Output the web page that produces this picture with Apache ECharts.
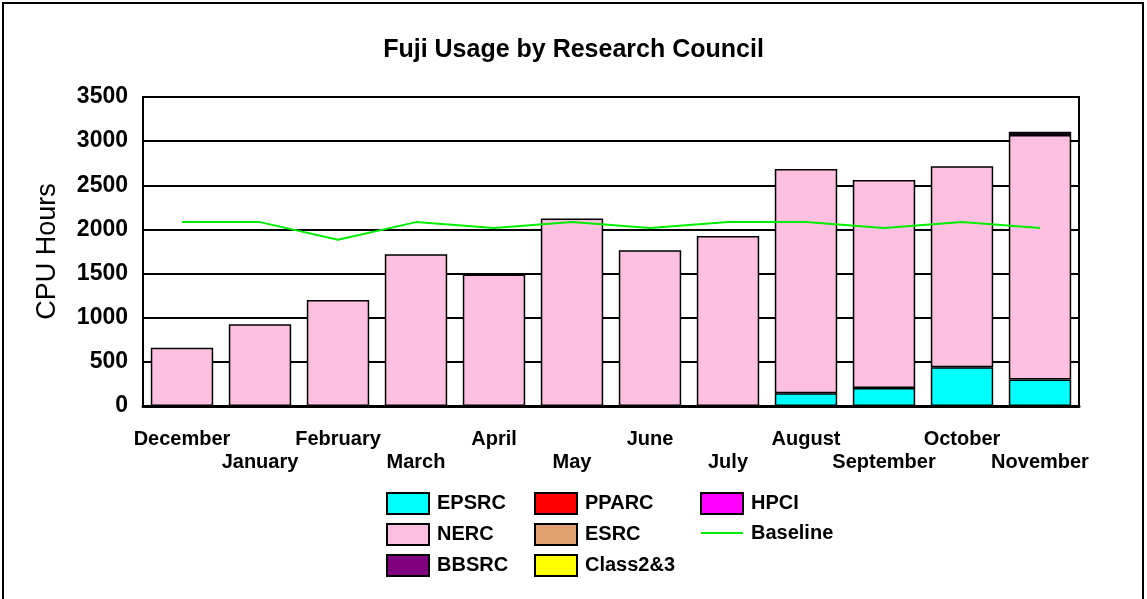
<!DOCTYPE html>
<html>
<head>
<meta charset="utf-8">
<script src="https://cdn.jsdelivr.net/npm/echarts@6/dist/echarts.min.js"></script>
<style>
  html, body { margin: 0; padding: 0; background: #fff; }
  #chart { width: 1147px; height: 599px; }
</style>
</head>
<body>
<div id="chart"></div>
<script>
// months on the x axis
const months = ['December', 'January', 'February', 'March', 'April', 'May',
  'June', 'July', 'August', 'September', 'October', 'November']

// CPU hours per research council (stacked)
const epsrc = [0, 0, 0, 0, 0, 0, 0, 0, 145, 205, 440, 300]
const nerc = [660, 925, 1200, 1720, 1490, 2125, 1765, 1925, 2540, 2355, 2275, 2770]
const bbsrc = [0, 0, 0, 0, 0, 0, 0, 0, 0, 0, 0, 35]
const pparc = [0, 0, 0, 0, 0, 0, 0, 0, 0, 0, 0, 0]
const esrc = [0, 0, 0, 0, 0, 0, 0, 0, 0, 0, 0, 0]
const class23 = [0, 0, 0, 0, 0, 0, 0, 0, 0, 0, 0, 0]
const hpci = [0, 0, 0, 0, 0, 0, 0, 0, 0, 0, 0, 0]
// baseline line
const baseline = [2083, 2083, 1882, 2083, 2016, 2083, 2016, 2083, 2083, 2016, 2083, 2016]

const yTicks = [0, 500, 1000, 1500, 2000, 2500, 3000, 3500]

let myChart = echarts.init(document.getElementById('chart'))

// stacked bar helper, zero months are left empty
function barSeries (name, data, color) {
  return {
    name: name,
    type: 'bar',
    stack: 'total',
    barCategoryGap: '20%',
    data: data.map(v => (v === 0 ? null : v)),
    itemStyle: { color: color, borderColor: '#000', borderWidth: 1.5 }
  }
}

const legendBase = {
  orient: 'vertical',
  top: 487,
  itemWidth: 42,
  itemHeight: 21,
  itemGap: 8,
  icon: 'rect',
  selectedMode: false,
  textStyle: {
    fontFamily: 'Liberation Sans',
    fontWeight: 'bold',
    fontSize: 20,
    color: '#000',
    padding: [0, 0, 0, 3]
  }
}

let option = {
  animation: false,
  backgroundColor: '#fff',
  title: {
    text: 'Fuji Usage by Research Council',
    left: 'center',
    top: 33,
    textStyle: { fontFamily: 'Liberation Sans', fontWeight: 'bold', fontSize: 25, color: '#000' }
  },
  graphic: [
    {
      type: 'rect',
      shape: { x: 3, y: 3, width: 1140, height: 640 },
      style: { fill: 'none', stroke: '#000', lineWidth: 2 },
      silent: true
    }
  ],
  legend: [
    Object.assign({}, legendBase, { left: 381, data: ['EPSRC', 'NERC', 'BBSRC'] }),
    Object.assign({}, legendBase, { left: 529, data: ['PPARC', 'ESRC', 'Class2&3'] }),
    Object.assign({}, legendBase, {
      left: 695,
      data: ['HPCI', { name: 'Baseline', icon: 'path://M0,9.5 L42,9.5 L42,11.5 L0,11.5 Z' }]
    })
  ],
  grid: {
    left: 143,
    right: 68,
    top: 97,
    bottom: 193,
    show: true,
    borderColor: '#000',
    borderWidth: 2
  },
  xAxis: {
    type: 'category',
    data: months,
    axisTick: { show: false },
    axisLine: { lineStyle: { color: '#000', width: 3 } },
    axisLabel: {
      interval: 0,
      margin: 22,
      hideOverlap: false,
      fontFamily: 'Liberation Sans',
      fontWeight: 'bold',
      fontSize: 20,
      lineHeight: 23,
      color: '#000',
      formatter: (v, i) => (i % 2 ? '\n' + v : v)
    }
  },
  yAxis: {
    type: 'value',
    min: yTicks[0],
    max: yTicks[yTicks.length - 1],
    interval: 500,
    name: 'CPU Hours',
    nameLocation: 'middle',
    nameRotate: 90,
    nameGap: 82,
    nameTextStyle: { fontFamily: 'Liberation Sans', fontSize: 27, color: '#000' },
    axisLine: { show: true, lineStyle: { color: '#000', width: 2 } },
    axisTick: { show: false },
    splitLine: { lineStyle: { color: '#000', width: 2 } },
    axisLabel: {
      margin: 15,
      fontFamily: 'Liberation Sans',
      fontWeight: 'bold',
      fontSize: 23,
      color: '#000',
      formatter: v => String(v)
    }
  },
  series: [
    barSeries('EPSRC', epsrc, '#00ffff'),
    barSeries('NERC', nerc, '#ffbfe0'),
    barSeries('BBSRC', bbsrc, '#800080'),
    barSeries('PPARC', pparc, '#ff0000'),
    barSeries('ESRC', esrc, '#e0a070'),
    barSeries('Class2&3', class23, '#ffff00'),
    barSeries('HPCI', hpci, '#ff00ff'),
    {
      name: 'Baseline',
      type: 'line',
      data: baseline,
      symbol: 'none',
      z: 5,
      itemStyle: { color: '#00ee00' },
      lineStyle: { color: '#00ee00', width: 2 }
    }
  ]
}
myChart.setOption(option)
</script>
</body>
</html>
